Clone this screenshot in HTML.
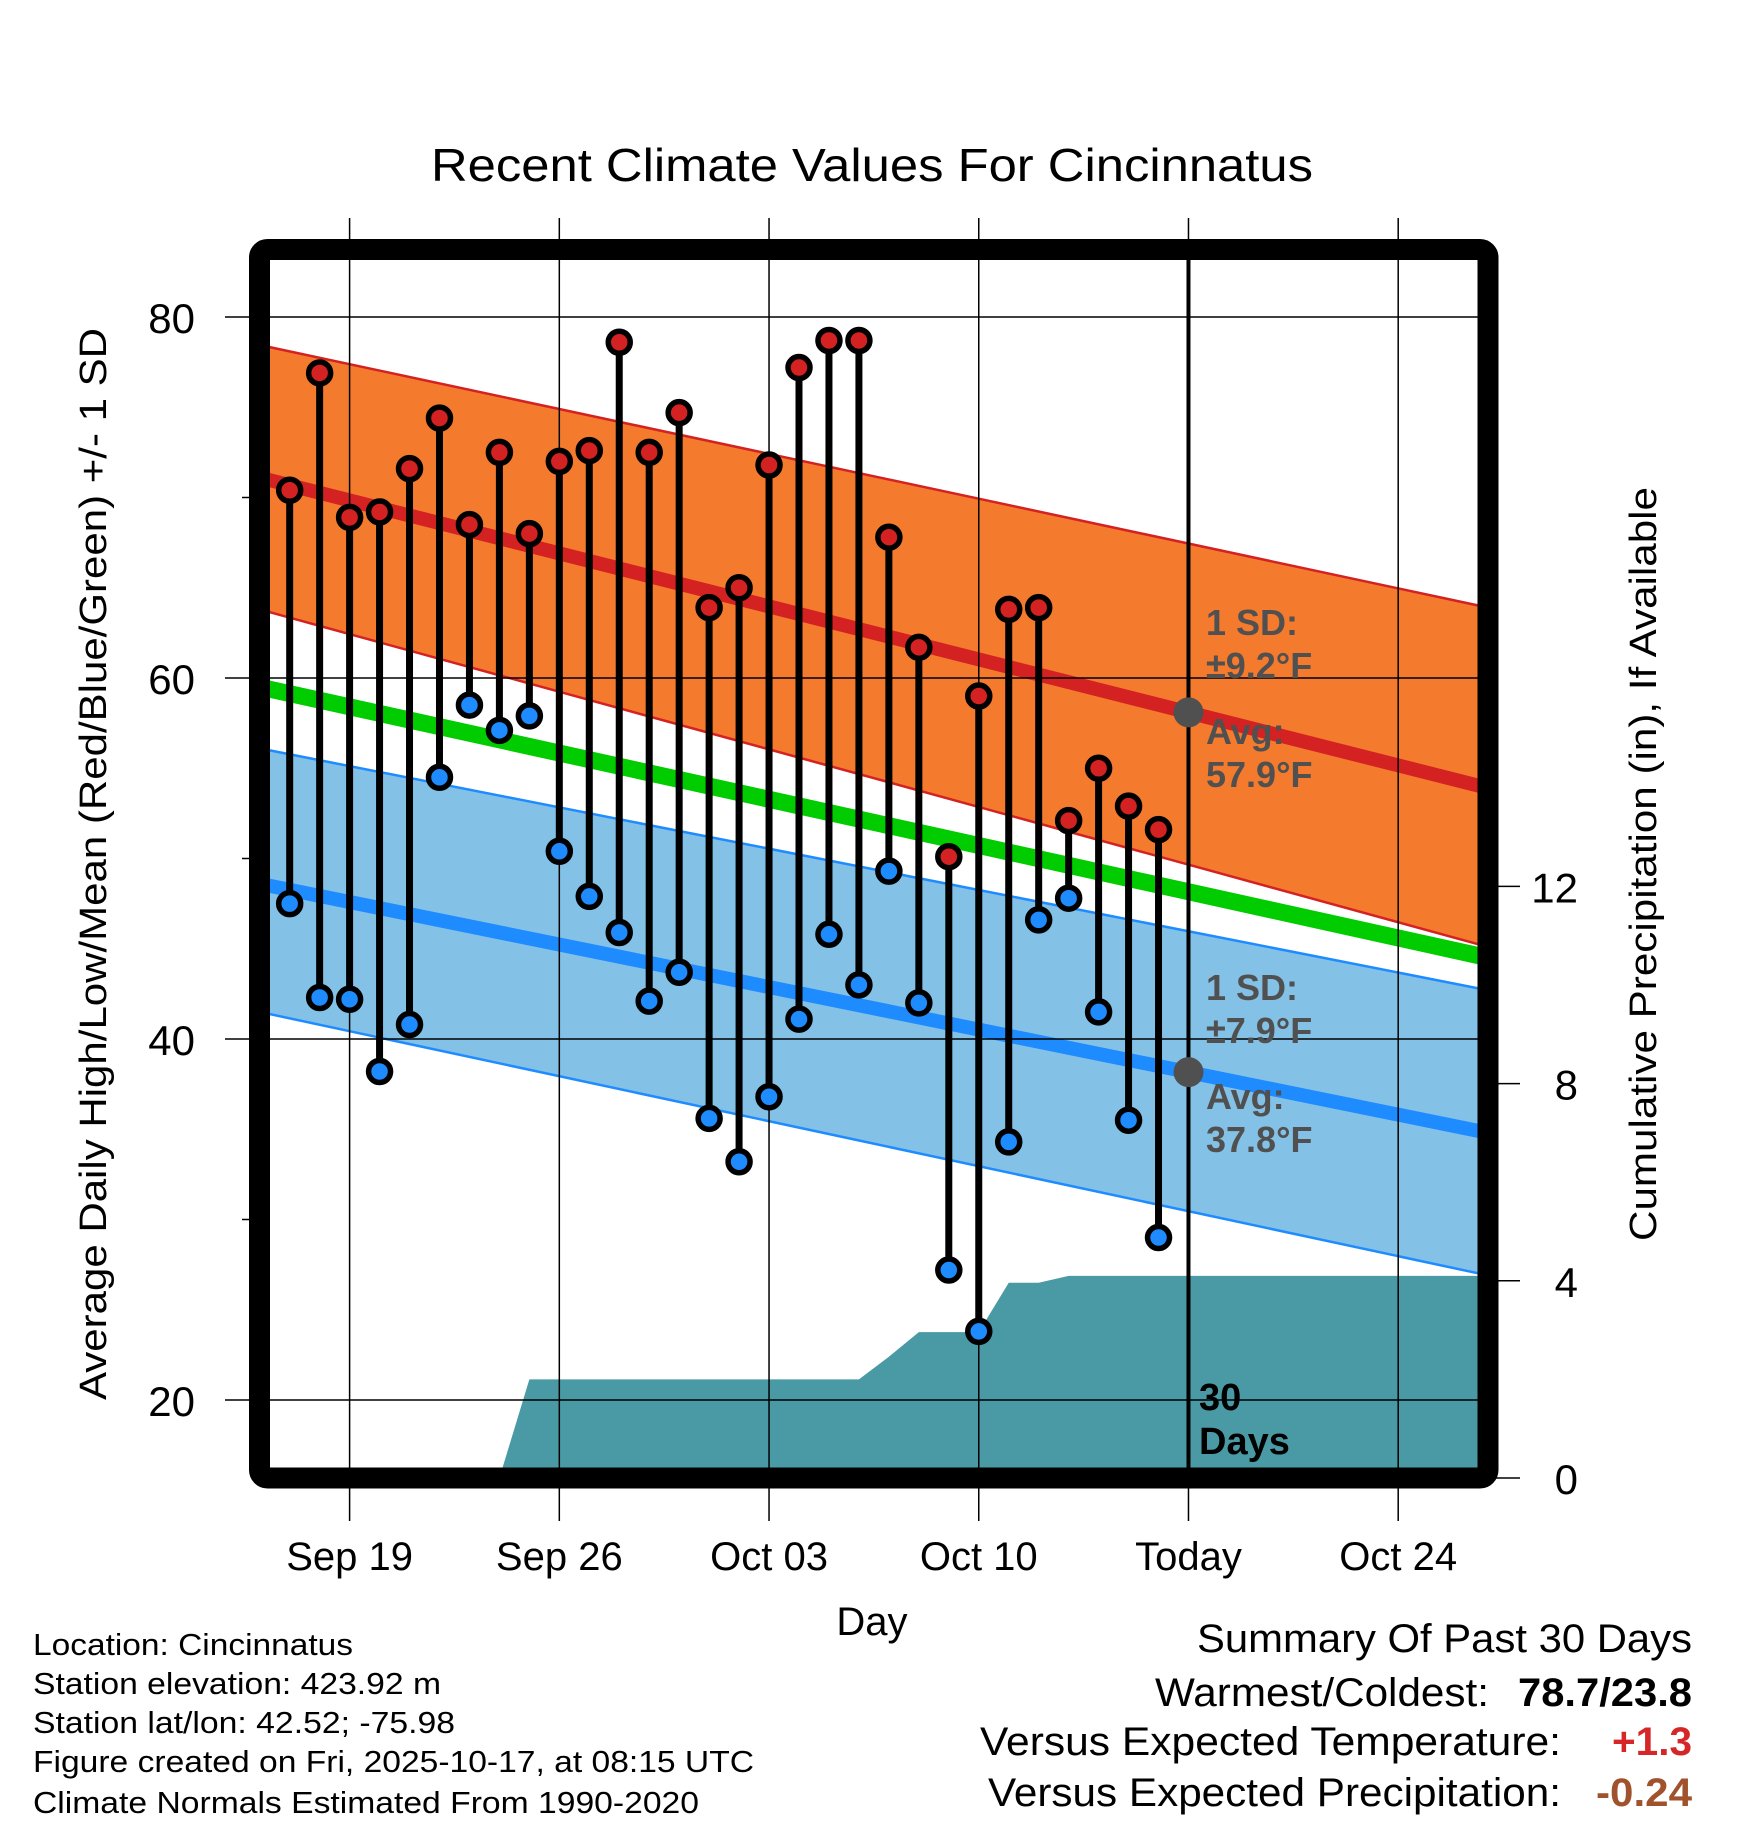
<!DOCTYPE html>
<html><head><meta charset="utf-8"><style>
body{margin:0;background:#fff}
svg{display:block;font-family:"Liberation Sans",sans-serif}
</style></head><body>
<svg id="chart" width="1748" height="1828" viewBox="0 0 1748 1828" xmlns="http://www.w3.org/2000/svg">
<defs><clipPath id="plotclip"><rect x="259.5" y="249.5" width="1228.5" height="1228.5"/></clipPath></defs>
<rect width="1748" height="1828" fill="#fff"/>
<g id="fills" clip-path="url(#plotclip)"></g>
<g id="grid"></g>
<g id="marks"></g>
<rect x="259.5" y="249.5" width="1228.5" height="1228.5" rx="8" fill="none" stroke="#000" stroke-width="21"/>
<g id="labels"></g>
<text x="872" y="181" font-size="46" text-anchor="middle" textLength="882" lengthAdjust="spacingAndGlyphs">Recent Climate Values For Cincinnatus</text>
<text x="872" y="1635" font-size="40" text-anchor="middle">Day</text>
<text transform="translate(106,864) rotate(-90)" font-size="38" text-anchor="middle" textLength="1072" lengthAdjust="spacingAndGlyphs">Average Daily High/Low/Mean (Red/Blue/Green) +/- 1 SD</text>
<text transform="translate(1656,864) rotate(-90)" font-size="38" text-anchor="middle" textLength="754" lengthAdjust="spacingAndGlyphs">Cumulative Precipitation (in), If Available</text>
<g font-size="31">
<text x="33" y="1655" textLength="320" lengthAdjust="spacingAndGlyphs">Location: Cincinnatus</text>
<text x="33" y="1694" textLength="408" lengthAdjust="spacingAndGlyphs">Station elevation: 423.92 m</text>
<text x="33" y="1733" textLength="422" lengthAdjust="spacingAndGlyphs">Station lat/lon: 42.52; -75.98</text>
<text x="33" y="1772" textLength="721" lengthAdjust="spacingAndGlyphs">Figure created on Fri, 2025-10-17, at 08:15 UTC</text>
<text x="33" y="1813" textLength="666" lengthAdjust="spacingAndGlyphs">Climate Normals Estimated From 1990-2020</text>
</g>
<g font-size="40" text-anchor="end">
<text x="1692" y="1652" textLength="495" lengthAdjust="spacingAndGlyphs">Summary Of Past 30 Days</text>
<text x="1489" y="1706" textLength="334" lengthAdjust="spacingAndGlyphs">Warmest/Coldest:</text>
<text x="1692" y="1706" font-weight="bold" textLength="174" lengthAdjust="spacingAndGlyphs">78.7/23.8</text>
<text x="1561" y="1755" textLength="581" lengthAdjust="spacingAndGlyphs">Versus Expected Temperature:</text>
<text x="1692" y="1755" font-weight="bold" fill="#d62728" textLength="80" lengthAdjust="spacingAndGlyphs">+1.3</text>
<text x="1561" y="1806" textLength="573" lengthAdjust="spacingAndGlyphs">Versus Expected Precipitation:</text>
<text x="1692" y="1806" font-weight="bold" fill="#a0522d" textLength="96" lengthAdjust="spacingAndGlyphs">-0.24</text>
</g>
</svg>
<script>
// Data
const days = [-2,-1,0,1,2,3,4,5,6,7,8,9,10,11,12,13,14,15,16,17,18,19,20,21,22,23,24,25,26,27];
const highs = [70.4,76.9,68.9,69.2,71.6,74.4,68.5,72.5,68.0,72.0,72.6,78.6,72.5,74.7,63.9,65.0,71.8,77.2,78.7,78.7,67.8,61.7,50.1,59.0,63.8,63.9,52.1,55.0,52.9,51.6];
const lows = [47.5,42.3,42.2,38.2,40.8,54.5,58.5,57.1,57.9,50.4,47.9,45.9,42.1,43.7,35.6,33.2,36.8,41.1,45.8,43.0,49.3,42.0,27.2,23.8,34.3,46.6,47.8,41.5,35.5,29.0];
const precip = [0,0,0,0,0,0,0,0,2.0,2.0,2.0,2.0,2.0,2.0,2.0,2.0,2.0,2.0,2.0,2.0,2.46,2.96,2.96,2.96,3.96,3.96,4.1,4.1,4.1,4.1];
const normDays = [-3, 38];
const highMean = [71.1, 53.9];
const highUpper = [78.45, 63.9];
const highLower = [63.8, 45.1];
const lowMean = [48.6, 34.8];
const lowUpper = [56.1, 42.7];
const lowLower = [41.5, 26.9];
const meanNorm = [59.5, 44.5];
const xTickDays = [0, 7, 14, 21, 28, 35];
const xTickLabels = ["Sep 19", "Sep 26", "Oct 03", "Oct 10", "Today", "Oct 24"];
const yTicks = [20, 40, 60, 80];
const yMinor = [30, 50, 70];
const pTicks = [0, 4, 8, 12];
const todayDay = 28;

const X = d => 349.6 + 29.96 * d;
const YT = v => 317 + (80 - v) * 18.05;
const YP = p => 1478 - p * 49.3;
const NS = "http://www.w3.org/2000/svg";
function mk(tag, attrs, parent) {
  const e = document.createElementNS(NS, tag);
  for (const k in attrs) e.setAttribute(k, attrs[k]);
  parent.appendChild(e);
  return e;
}
const fills = document.getElementById('fills');
const grid = document.getElementById('grid');
const marks = document.getElementById('marks');
const labels = document.getElementById('labels');
const L = 259.5, R = 1488, T = 249.5, B = 1478;

function band(up, lo, fill, name) {
  const pts = [[X(normDays[0]), YT(up[0])], [X(normDays[1]), YT(up[1])], [X(normDays[1]), YT(lo[1])], [X(normDays[0]), YT(lo[0])]];
  const p = mk('polygon', {points: pts.map(q => q.join(',')).join(' '), fill: fill}, fills);
  
  
}
function line(vals, color, w, name) {
  const l = mk('line', {x1: X(normDays[0]), y1: YT(vals[0]), x2: X(normDays[1]), y2: YT(vals[1]), stroke: color, 'stroke-width': w}, fills);
  
  
}
band(highUpper, highLower, '#f47b2e', 'high-sd-band');
band(lowUpper, lowLower, '#84c1e6', 'low-sd-band');
line(highUpper, '#d42222', 2.5, 'high-upper-edge');
line(highLower, '#d42222', 2.5, 'high-lower-edge');
line(lowUpper, '#1e8cff', 2.5, 'low-upper-edge');
line(lowLower, '#1e8cff', 2.5, 'low-lower-edge');
line(meanNorm, '#00cc00', 17, 'mean-normal-line');
line(highMean, '#d42222', 14, 'high-normal-line');
line(lowMean, '#1e8cff', 14, 'low-normal-line');

// precipitation area
let pp = [[X(days[0]), YP(0)]];
days.forEach((d, i) => pp.push([X(d), YP(precip[i])]));
pp.push([R, YP(precip[precip.length - 1])]);
pp.push([R, YP(0)]);
const area = mk('polygon', {points: pp.map(q => q.join(',')).join(' '), fill: '#4a9aa5'}, fills);



// grid
xTickDays.forEach((d, i) => {
  const g = mk('line', {x1: X(d), y1: 218, x2: X(d), y2: 1521, stroke: '#000', 'stroke-width': 1.5}, grid);
  
  
  const t = mk('text', {x: X(d), y: 1570, 'font-size': 40, 'text-anchor': 'middle'}, labels);
  t.textContent = xTickLabels[i];
  
  
});
yTicks.forEach(v => {
  const g = mk('line', {x1: 225, y1: YT(v), x2: R, y2: YT(v), stroke: '#000', 'stroke-width': 1.5}, grid);
  
  
  const t = mk('text', {x: 195, y: YT(v) + 16, 'font-size': 42, 'text-anchor': 'end'}, labels);
  t.textContent = v;
  
  
});
yMinor.forEach(v => {
  const g = mk('line', {x1: 242, y1: YT(v), x2: L, y2: YT(v), stroke: '#000', 'stroke-width': 1.5}, grid);
  
  
});
pTicks.forEach(v => {
  const g = mk('line', {x1: R, y1: YP(v), x2: 1520, y2: YP(v), stroke: '#000', 'stroke-width': 1.5}, grid);
  
  
  const t = mk('text', {x: 1578, y: YP(v) + 16, 'font-size': 42, 'text-anchor': 'end'}, labels);
  t.textContent = v;
  
  
});

// today line
const tl = mk('line', {x1: X(todayDay), y1: T, x2: X(todayDay), y2: B, stroke: '#000', 'stroke-width': 4}, marks);



// stems and dots
days.forEach((d, i) => {
  const s = mk('line', {x1: X(d), y1: YT(highs[i]), x2: X(d), y2: YT(lows[i]), stroke: '#000', 'stroke-width': 7}, marks);
  
  
});
days.forEach((d, i) => {
  const h = mk('circle', {cx: X(d), cy: YT(highs[i]), r: 11, fill: '#d42222', stroke: '#000', 'stroke-width': 5.5}, marks);
  
  
  const l = mk('circle', {cx: X(d), cy: YT(lows[i]), r: 11, fill: '#1e8cff', stroke: '#000', 'stroke-width': 5.5}, marks);
  
  
});
// today normal markers
const hn = highMean[0] + (highMean[1] - highMean[0]) * (todayDay - normDays[0]) / (normDays[1] - normDays[0]);
const ln = lowMean[0] + (lowMean[1] - lowMean[0]) * (todayDay - normDays[0]) / (normDays[1] - normDays[0]);
[[hn, 'today-high-normal-dot'], [ln, 'today-low-normal-dot']].forEach(a => {
  const c = mk('circle', {cx: X(todayDay), cy: YT(a[0]), r: 15, fill: '#505050'}, marks);
  
  
});
// annotations
const ann = [["1 SD:", 635], ["±9.2°F", 678], ["Avg:", 744], ["57.9°F", 787], ["1 SD:", 1000], ["±7.9°F", 1043], ["Avg:", 1109], ["37.8°F", 1152]];
ann.forEach(a => {
  const t = mk('text', {x: 1206, y: a[1], 'font-size': 36, 'font-weight': 'bold', fill: '#505050'}, labels);
  t.textContent = a[0];
  
  
});
[["30", 1410], ["Days", 1454]].forEach(a => {
  const t = mk('text', {x: 1199, y: a[1], 'font-size': 38, 'font-weight': 'bold', fill: '#000'}, labels);
  t.textContent = a[0];
  
  
});
</script>
</body></html>
